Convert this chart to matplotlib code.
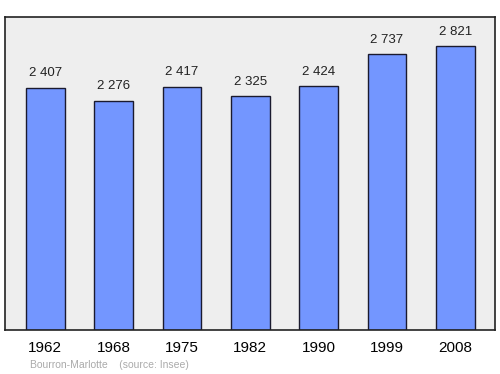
import numpy as np
import matplotlib.pyplot as plt

years = ["1962", "1968", "1975", "1982", "1990", "1999", "2008"]
population = [2407, 2276, 2417, 2325, 2424, 2737, 2821]
labels = ["2 407", "2 276", "2 417", "2 325", "2 424", "2 737", "2 821"]

plt.rcParams["font.family"] = ["Liberation Sans", "DejaVu Sans"]

fig = plt.figure(figsize=(5, 3.74), dpi=100)
ax = fig.add_axes([0.01, 0.118, 0.98, 0.837])
ax.set_facecolor("#eeeeee")

x = np.arange(len(years))
ax.bar(x, population, width=0.57, color="#7396ff", edgecolor="#1a1a2e", linewidth=1.0, zorder=2)
for xi, v, t in zip(x, population, labels):
    ax.annotate(t, (xi, v), xytext=(0, 6), textcoords="offset points",
                ha="center", va="bottom", fontsize=9.5, color="#222222")

ax.set_xlim(-0.59, 6.58)
ax.set_ylim(0, 3110)
ax.set_yticks([])
ax.set_xticks(x)
ax.set_xticklabels(years, fontsize=11)
ax.tick_params(axis="x", length=0, pad=8)
for s in ax.spines.values():
    s.set_color("#222222")
    s.set_linewidth(1.2)

fig.text(0.06, 0.015, "Bourron-Marlotte    (source: Insee)", fontsize=7.5, color="#aaaaaa")

fig.savefig("out.png", dpi=100)
